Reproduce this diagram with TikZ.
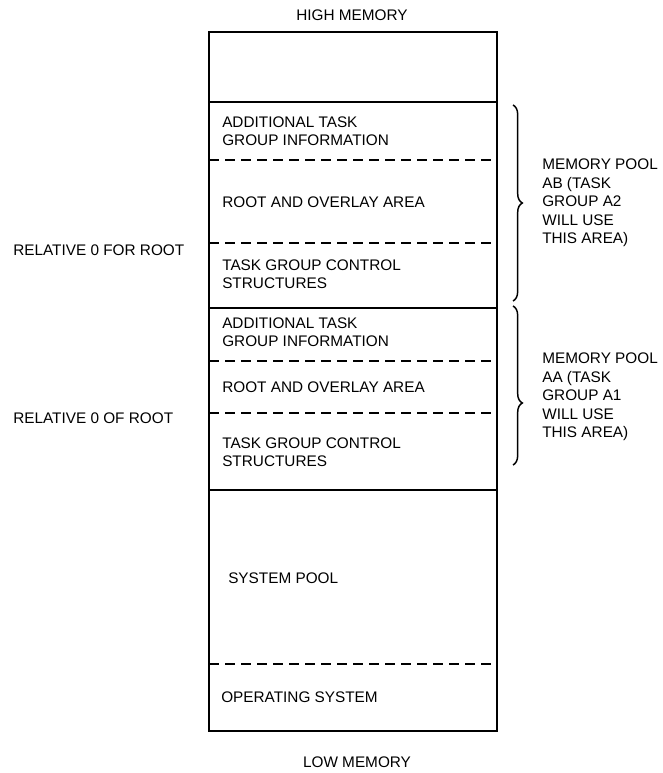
\documentclass[tikz,border=0pt]{standalone}
\usepackage{fontspec}
\setmainfont{Liberation Sans}
\usetikzlibrary{decorations.pathreplacing}

\begin{document}
\begin{tikzpicture}[
    x=0.75pt, y=-0.75pt,
    every node/.style={font=\fontsize{11.5}{13.8}\selectfont, inner sep=0pt},
    zone/.style={anchor=west, align=left},          % texts inside the box
    outline/.style={draw, line width=2pt},          % solid borders
    split/.style={draw, line width=1.7pt, dash pattern=on 7.5pt off 4.5pt},
    pooltext/.style={anchor=west, align=left},
    bracket/.style={draw, line width=1.1pt, decorate,
        decoration={brace, amplitude=7pt}}
]
\useasboundingbox (0,0) rectangle (662,773);

% Corners of the memory map
\coordinate (tl) at (209,32);
\coordinate (br) at (497,731);

% Outer box and solid borders
\draw[outline] (tl) rectangle (br);
\foreach \y in {102,308,490}
    \draw[outline] (209,\y) -- (497,\y);
% Dashed borders
\foreach \y in {160,243,361,413,664}
    \draw[split] (209,\y) -- (497,\y);

% Top and bottom
\node (high) at (352,15) {HIGH MEMORY};
\node (low) at (357,762) {LOW MEMORY};

% Task group A2
\node[zone] (infoB) at (222,131) {ADDITIONAL TASK\\GROUP INFORMATION};
\node[zone] (rootB) at (222,202) {ROOT AND OVERLAY AREA};
\node[zone] (ctrlB) at (222,274) {TASK GROUP CONTROL\\STRUCTURES};

% Task group A1
\node[zone] (infoA) at (222,332) {ADDITIONAL TASK\\GROUP INFORMATION};
\node[zone] (rootA) at (222,387) {ROOT AND OVERLAY AREA};
\node[zone] (ctrlA) at (222,452) {TASK GROUP CONTROL\\STRUCTURES};

% System
\node[zone] (syspool) at (228,578) {SYSTEM POOL};
\node[zone] (opsys) at (221,697) {OPERATING SYSTEM};

% Left labels
\node[anchor=west] (relfor) at (13,250) {RELATIVE 0 FOR ROOT};
\node[anchor=west] (relof) at (13,418) {RELATIVE 0 OF ROOT};

% Braces
\coordinate (bBtop) at (513,105);
\coordinate (bBbot) at (513,301);
\coordinate (bAtop) at (513,306);
\coordinate (bAbot) at (513,465);
\draw[bracket] (bBtop) -- (bBbot);
\draw[bracket, decoration={aspect=0.61}] (bAtop) -- (bAbot);

% Memory pools
\node[pooltext] (poolAB) at (542,203)
    {MEMORY POOL\\AB (TASK\\GROUP A2\\WILL USE\\THIS AREA)};
\node[pooltext] (poolAA) at (542,397)
    {MEMORY POOL\\AA (TASK\\GROUP A1\\WILL USE\\THIS AREA)};
\end{tikzpicture}
\end{document}
